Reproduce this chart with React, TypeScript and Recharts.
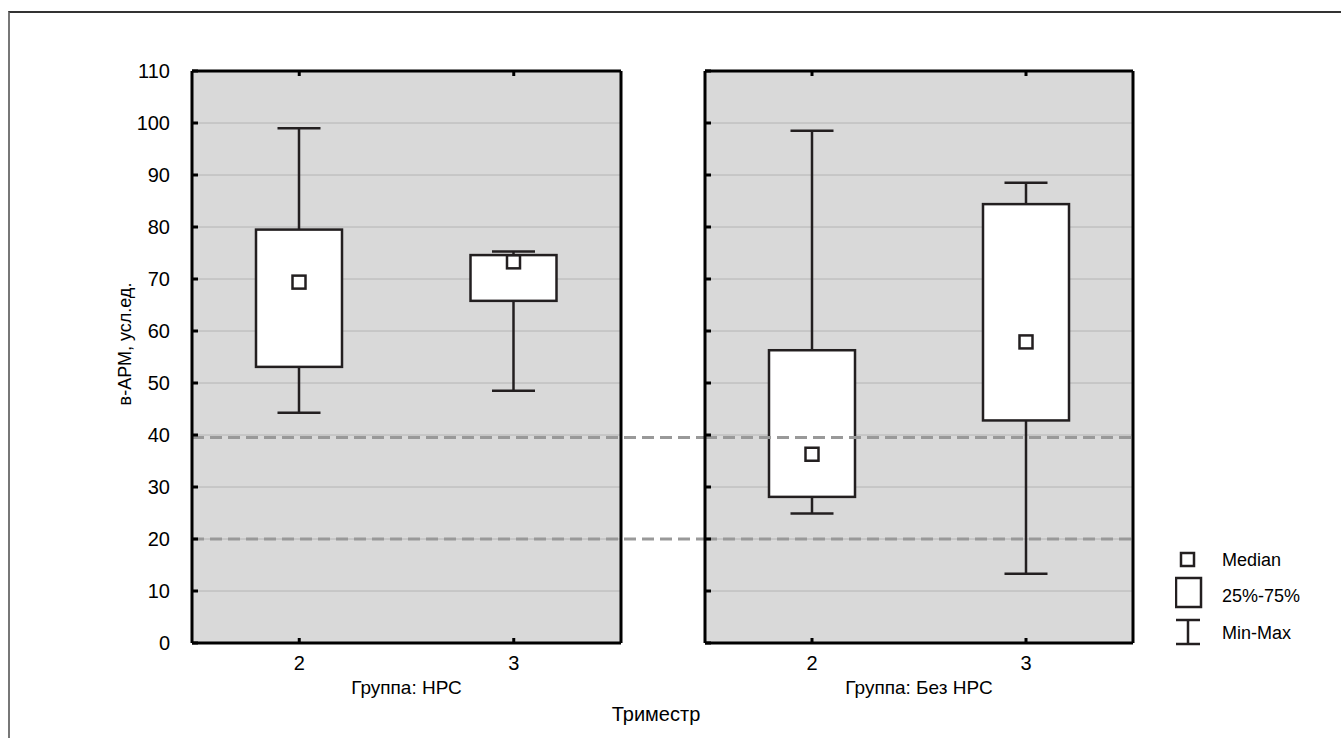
import React from "react";
import {
  ComposedChart,
  Bar,
  XAxis,
  YAxis,
  CartesianGrid,
  ReferenceLine,
  Legend,
  Label,
} from "recharts";

// категории и подписи
const trimesters = ["2", "3"];
const groupTitles = ["Группа: НРС", "Группа: Без НРС"];
const yTicks = [0, 10, 20, 30, 40, 50, 60, 70, 80, 90, 100, 110];
const normLines = [39.5, 20];
const legendLabels = ["Median", "25%-75%", "Min-Max"];

// группа НРС
const nrsMin = [44.3, 48.5];
const nrsQ1 = [53.1, 65.8];
const nrsMedian = [69.4, 73.3];
const nrsQ3 = [79.5, 74.6];
const nrsMax = [99.0, 75.3];

// группа без НРС
const noNrsMin = [24.9, 13.3];
const noNrsQ1 = [28.1, 42.8];
const noNrsMedian = [36.3, 57.9];
const noNrsQ3 = [56.3, 84.4];
const noNrsMax = [98.5, 88.5];

const buildRows = (
  min: number[],
  q1: number[],
  median: number[],
  q3: number[],
  max: number[]
) =>
  trimesters.map((t, i) => ({
    trimester: t,
    min: min[i],
    q1: q1[i],
    median: median[i],
    q3: q3[i],
    max: max[i],
  }));

const nrsRows = buildRows(nrsMin, nrsQ1, nrsMedian, nrsQ3, nrsMax);
const noNrsRows = buildRows(noNrsMin, noNrsQ1, noNrsMedian, noNrsQ3, noNrsMax);

const INK = "#231f20";
const FONT = "'Liberation Sans', Arial, sans-serif";

// рисуем коробку по пиксельному диапазону [min, max], который дала шкала
const BoxShape = (props: any) => {
  const { x, y, width, height, payload } = props;
  if (!payload || x == null || y == null) return null;
  const top = Math.min(y, y + height);
  const bottom = Math.max(y, y + height);
  const ppu = (bottom - top) / (payload.max - payload.min);
  const py = (v: number) => bottom - (v - payload.min) * ppu;
  const cx = x + width / 2;
  const cap = width / 2;
  const med = 13;
  return (
    <g>
      <line x1={cx} x2={cx} y1={py(payload.max)} y2={py(payload.q3)} stroke={INK} strokeWidth={2.5} />
      <line x1={cx} x2={cx} y1={py(payload.q1)} y2={py(payload.min)} stroke={INK} strokeWidth={2.5} />
      <line x1={cx - cap / 2} x2={cx + cap / 2} y1={py(payload.max)} y2={py(payload.max)} stroke={INK} strokeWidth={2.5} />
      <line x1={cx - cap / 2} x2={cx + cap / 2} y1={py(payload.min)} y2={py(payload.min)} stroke={INK} strokeWidth={2.5} />
      <rect
        x={x}
        y={py(payload.q3)}
        width={width}
        height={py(payload.q1) - py(payload.q3)}
        fill="#fff"
        stroke={INK}
        strokeWidth={2.5}
      />
      <rect
        x={cx - med / 2}
        y={py(payload.median) - med / 2}
        width={med}
        height={med}
        fill="#fff"
        stroke={INK}
        strokeWidth={2.5}
      />
    </g>
  );
};

const LeftTick = (props: any) => {
  const { x, y, payload, showLabel } = props;
  return (
    <g>
      <line x1={x} x2={x + 6} y1={y} y2={y} stroke="#000" strokeWidth={3} />
      {showLabel && (
        <text x={x - 22} y={y} dy={7} textAnchor="end" fontSize={20} fill="#000">
          {payload.value}
        </text>
      )}
    </g>
  );
};

const RightTick = (props: any) => {
  const { x, y } = props;
  return <line x1={x} x2={x - 6} y1={y} y2={y} stroke="#000" strokeWidth={3} />;
};

const TopTick = (props: any) => {
  const { x, y } = props;
  return <line x1={x} x2={x} y1={y} y2={y + 5} stroke="#000" strokeWidth={3} />;
};

const BottomTick = (props: any) => {
  const { x, y, payload } = props;
  return (
    <g>
      <line x1={x} x2={x} y1={y} y2={y - 5} stroke="#000" strokeWidth={3} />
      <text x={x} y={y + 27} textAnchor="middle" fontSize={20} fill="#000">
        {payload.value}
      </text>
    </g>
  );
};

const BoxLegend = () => (
  <svg width={170} height={110} style={{ display: "block" }}>
    <rect x={6} y={6} width={13} height={13} fill="#fff" stroke={INK} strokeWidth={2.5} />
    <rect x={1} y={31} width={25} height={29} fill="#fff" stroke={INK} strokeWidth={2.5} />
    <line x1={1} x2={25} y1={73} y2={73} stroke={INK} strokeWidth={2.5} />
    <line x1={13} x2={13} y1={73} y2={97} stroke={INK} strokeWidth={2.5} />
    <line x1={1} x2={25} y1={97} y2={97} stroke={INK} strokeWidth={2.5} />
    {legendLabels.map((l, i) => (
      <text key={l} x={47} y={[19, 55, 92][i]} fontSize={18} fill="#000" fontFamily={FONT}>
        {l}
      </text>
    ))}
  </svg>
);

const dashedLine = (extend: number) => (p: any) =>
  p.x1 == null ? <g /> : (
    <line
      x1={p.x1}
      x2={p.x2 + extend}
      y1={p.y1}
      y2={p.y2}
      stroke="#999"
      strokeWidth={3}
      strokeDasharray="12 6"
    />
  );

interface PanelProps {
  rows: typeof nrsRows;
  title: string;
  first: boolean;
}

function Panel({ rows, title, first }: PanelProps) {
  const width = first ? 705 : 646;
  // оси справа и сверху шириной 1px, поля подогнаны под них
  const margin = first
    ? { top: 70, right: 83, bottom: 0, left: 0 }
    : { top: 70, right: 207, bottom: 0, left: 9 };
  return (
    <ComposedChart width={width} height={738} data={rows} margin={margin}>
      <CartesianGrid vertical={false} fill="#d9d9d9" stroke="#b4b4b4" strokeWidth={1} />
      <XAxis
        dataKey="trimester"
        height={95}
        axisLine={{ stroke: "#000", strokeWidth: 3 }}
        tickLine={false}
        tickSize={0}
        tickMargin={0}
        interval={0}
        tick={(p: any) => <BottomTick {...p} />}
      >
        <Label
          content={(p: any) => {
            const vb = p.viewBox;
            return (
              <text x={vb.x + vb.width / 2} y={vb.y + 51} textAnchor="middle" fontSize={19} fill="#000">
                {title}
              </text>
            );
          }}
        />
        {first && (
          <Label
            content={(p: any) => {
              const vb = p.viewBox;
              return (
                <text x={vb.x + vb.width + 35} y={vb.y + 78} textAnchor="middle" fontSize={20} fill="#000">
                  Триместр
                </text>
              );
            }}
          />
        )}
      </XAxis>
      <XAxis
        xAxisId="top"
        orientation="top"
        dataKey="trimester"
        height={1}
        axisLine={{ stroke: "#000", strokeWidth: 3 }}
        tickLine={false}
        tickSize={0}
        tickMargin={0}
        interval={0}
        tick={(p: any) => <TopTick {...p} />}
      />
      <YAxis
        domain={[0, 110]}
        ticks={yTicks}
        interval={0}
        width={first ? 192 : 1}
        axisLine={{ stroke: "#000", strokeWidth: 3 }}
        tickLine={false}
        tickSize={0}
        tickMargin={0}
        tick={(p: any) => <LeftTick {...p} showLabel={first} />}
      >
        {first && (
          <Label
            content={(p: any) => {
              const vb = p.viewBox;
              const cx = vb.x + vb.width - 67;
              const cy = vb.y + vb.height / 2 - 13;
              return (
                <text
                  x={cx}
                  y={cy}
                  transform={`rotate(-90 ${cx} ${cy})`}
                  textAnchor="middle"
                  dominantBaseline="central"
                  fontSize={18}
                  fill="#000"
                >
                  в-АРМ, усл.ед.
                </text>
              );
            }}
          />
        )}
      </YAxis>
      <YAxis
        yAxisId="right"
        orientation="right"
        domain={[0, 110]}
        ticks={yTicks}
        interval={0}
        width={1}
        axisLine={{ stroke: "#000", strokeWidth: 3 }}
        tickLine={false}
        tickSize={0}
        tickMargin={0}
        tick={(p: any) => <RightTick {...p} />}
      />
      <Bar
        dataKey={(d: any) => [d.min, d.max]}
        barSize={86}
        shape={(p: any) => <BoxShape {...p} />}
        isAnimationActive={false}
        legendType="none"
      />
      {normLines.map((v) => (
        <ReferenceLine key={v} y={v} shape={dashedLine(first ? 84 : 0)} />
      ))}
      {!first && (
        <Legend
          layout="vertical"
          align="center"
          verticalAlign="middle"
          content={() => <BoxLegend />}
          wrapperStyle={{ left: 480, top: 547, width: 170, height: 110 }}
        />
      )}
    </ComposedChart>
  );
}

export default function App() {
  return (
    <div
      style={{
        position: "absolute",
        left: 0,
        top: 0,
        width: 1341,
        height: 738,
        background: "#fff",
        overflow: "hidden",
        fontFamily: FONT,
      }}
    >
      <div
        style={{
          position: "absolute",
          left: 8,
          top: 11,
          width: 1400,
          height: 800,
          borderTop: "2px solid #333",
          borderLeft: "2px solid #777",
        }}
      />
      <div style={{ position: "absolute", left: 0, top: 0 }}>
        <Panel rows={nrsRows} title={groupTitles[0]} first />
      </div>
      <div style={{ position: "absolute", left: 695, top: 0 }}>
        <Panel rows={noNrsRows} title={groupTitles[1]} first={false} />
      </div>
    </div>
  );
}
